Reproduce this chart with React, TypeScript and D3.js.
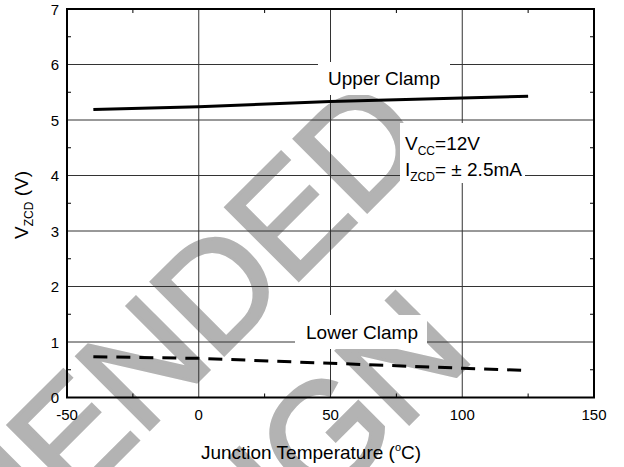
import React from "react";
import * as d3 from "d3";

const temps = [-40, 0, 50, 100, 125];
const upperClamp = [5.19, 5.24, 5.335, 5.395, 5.43];
const lowerClamp = [0.735, 0.705, 0.617, 0.527, 0.485];
const xTicks = [-50, 0, 50, 100, 150];
const yTicks = [0, 1, 2, 3, 4, 5, 6, 7];
const xMinor = [-25, 25, 75, 125];
const yMinor = [0.5, 1.5, 2.5, 3.5, 4.5, 5.5, 6.5];

const W = 624;
const H = 467;
const L = 67, R = 594, T = 9, B = 397.5;
const FONT = "'Liberation Sans', Arial, Helvetica, sans-serif";
const WM = "#b3b3b3";

export default function App() {
  const x = d3.scaleLinear().domain([-50, 150]).range([L, R]);
  const y = d3.scaleLinear().domain([0, 7]).range([B, T]);
  const line = d3.line<number>().x((_, i) => x(temps[i])).y((d) => y(d));

  return (
    <div style={{ position: "absolute", left: 0, top: 0 }}>
      <svg width={W} height={H} style={{ display: "block", background: "#fff" }} fontFamily={FONT}>
        <rect x={0} y={0} width={W} height={H} fill="#fff" />
        {/* watermark */}
        <g fill={WM} stroke={WM} strokeWidth={3} fontSize={150} letterSpacing={-3}>
          <text x={433} y={146} textAnchor="end" transform="rotate(-45 433 146)">NOT RECOMMENDED</text>
          <text x={475} y={358} textAnchor="end" transform="rotate(-45 475 358)">FOR NEW DESIGN</text>
        </g>
        {/* grid */}
        <g stroke="#333" strokeWidth={1}>
          {xTicks.slice(1, -1).map((t) => (
            <line key={"gx" + t} x1={x(t)} x2={x(t)} y1={T} y2={B} />
          ))}
          {yTicks.slice(1, -1).map((t) => (
            <line key={"gy" + t} x1={L} x2={R} y1={y(t)} y2={y(t)} />
          ))}
        </g>
        {/* minor ticks */}
        <g stroke="#000" strokeWidth={1}>
          {xMinor.map((t) => (
            <g key={"mx" + t}>
              <line x1={x(t)} x2={x(t)} y1={T} y2={T + 4} />
              <line x1={x(t)} x2={x(t)} y1={B} y2={B - 4} />
            </g>
          ))}
          {yMinor.map((t) => (
            <g key={"my" + t}>
              <line x1={L} x2={L + 4} y1={y(t)} y2={y(t)} />
              <line x1={R} x2={R - 4} y1={y(t)} y2={y(t)} />
            </g>
          ))}
        </g>
        {/* frame */}
        <rect x={L} y={T} width={R - L} height={B - T} fill="none" stroke="#000" strokeWidth={2} />
        {/* data */}
        <path d={line(upperClamp) || ""} fill="none" stroke="#000" strokeWidth={3} />
        <path d={line(lowerClamp) || ""} fill="none" stroke="#000" strokeWidth={3} strokeDasharray="14,9" />
        {/* label boxes */}
        <rect x={318} y={62} width={132} height={33} fill="#fff" />
        <rect x={400} y={123} width={125} height={60} fill="#fff" />
        <rect x={295} y={315} width={132} height={34} fill="#fff" />
        <g fontSize={19} fill="#000">
          <text x={384} y={85} textAnchor="middle">Upper Clamp</text>
          <text x={362} y={339} textAnchor="middle">Lower Clamp</text>
          <text x={405} y={150}>
            V<tspan fontSize={12} dy={5}>CC</tspan><tspan dy={-5}>=12V</tspan>
          </text>
          <text x={405} y={176}>
            I<tspan fontSize={12} dy={5}>ZCD</tspan><tspan dy={-5}>= ± 2.5mA</tspan>
          </text>
        </g>
        {/* tick labels */}
        <g fontSize={15} fill="#000">
          {xTicks.map((t) => (
            <text key={"xl" + t} x={x(t)} y={420} textAnchor="middle">{t}</text>
          ))}
          {yTicks.map((t) => (
            <text key={"yl" + t} x={59} y={y(t) + 5.5} textAnchor="end">{t}</text>
          ))}
        </g>
        {/* axis titles */}
        <text x={311} y={459} textAnchor="middle" fontSize={19}>
          Junction Temperature (<tspan fontSize={11} dy={-8}>o</tspan><tspan dy={8}>C)</tspan>
        </text>
        <text transform="translate(28,205) rotate(-90)" textAnchor="middle" fontSize={19}>
          V<tspan fontSize={12} dy={5}>ZCD</tspan><tspan dy={-5}> (V)</tspan>
        </text>
      </svg>
    </div>
  );
}
